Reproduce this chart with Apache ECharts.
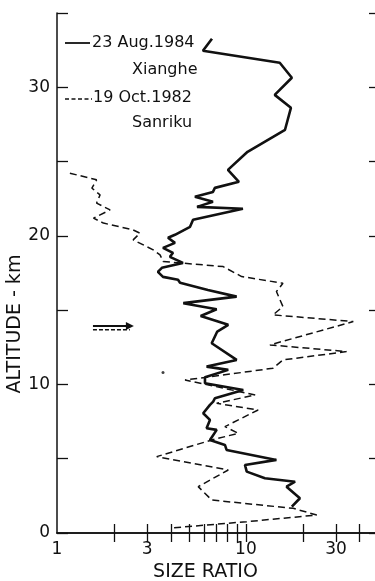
<!DOCTYPE html>
<html>
<head>
<meta charset="utf-8">
<script src="https://cdn.jsdelivr.net/npm/echarts@6/dist/echarts.min.js"></script>
<style>
  html, body { margin: 0; padding: 0; background: #fff; }
  #chart { width: 375px; height: 581px; }
</style>
</head>
<body>
<div id="chart"></div>
<script>
// 23 Aug.1984 Xianghe (solid)
var xiangheRatio = [6.61, 5.92, 15.1, 17.5, 14.2, 17.3, 16.1, 10.2, 8.03, 9.18, 6.85, 6.69, 5.37, 6.69, 5.51, 9.64,
  5.25, 5.06, 4.21, 3.87, 4.21, 3.64, 4.11, 3.96, 4.64, 3.59, 3.42, 3.64, 4.37, 4.48, 6.29, 8.93, 4.66, 7.0, 5.76,
  8.06, 7.05, 6.59, 8.93, 6.19, 8.06, 6.07, 6.07, 9.68, 6.85, 6.71, 6.45, 5.94, 6.45, 6.19, 7.0, 6.45, 7.74, 7.90,
  14.5, 9.88, 10.1, 12.6, 18.2, 16.4, 19.3, 17.5];
var xiangheAlt = [33.27, 32.46, 31.65, 30.64, 29.49, 28.62, 27.14, 25.66, 24.44, 23.64, 23.23, 22.96, 22.63, 22.29, 21.95, 21.82,
  21.08, 20.61, 20.07, 19.87, 19.53, 19.19, 18.86, 18.59, 18.18, 17.85, 17.58, 17.24, 17.04, 16.84, 16.36, 15.91, 15.47, 15.06, 14.61,
  14.01, 13.56, 12.77, 11.65, 11.20, 10.98, 10.48, 10.08, 9.63, 9.07, 8.84, 8.62, 8.06, 7.61, 7.05, 6.94, 6.26, 5.93, 5.59,
  4.92, 4.58, 4.13, 3.68, 3.45, 3.12, 2.34, 1.77];

// 19 Oct.1982 Sanriku (dashed)
var sanrikuRatio = [1.17, 1.62, 1.53, 1.69, 1.62, 1.91, 1.56, 1.76, 2.53, 2.75, 2.53, 3.23, 3.51, 3.65, 4.66, 7.58,
  9.49, 15.7, 14.5, 15.7, 13.9, 37.0, 13.4, 34.1, 15.7, 13.9, 6.19, 4.76, 11.2, 7.0, 11.6, 7.74, 9.10, 6.59, 3.37,
  8.06, 5.59, 6.59, 17.8, 23.7, 10.1, 4.06];
var sanrikuAlt = [24.22, 23.77, 23.21, 22.76, 22.20, 21.75, 21.19, 20.86, 20.40, 20.18, 19.73, 19.06, 18.72, 18.27, 18.16, 17.93,
  17.26, 16.81, 16.25, 15.24, 14.68, 14.23, 12.66, 12.21, 11.65, 11.09, 10.48, 10.30, 9.29, 8.73, 8.28, 7.16, 6.71, 6.26, 5.14,
  4.24, 3.12, 2.22, 1.66, 1.21, 0.76, 0.34];

// arrow marker near 14 km
var arrowRatio = [1.55, 2.43];
var arrowSolidAlt = 13.94;
var arrowDashAlt = 13.68;
var speck = [[3.64, 10.8]];

var xLabels = [1, 3, 10, 30];
var xTicks = [2, 3, 4, 5, 6, 7, 8, 9, 10, 20, 30, 40];

function pairs(xs, ys) {
  return xs.map(function (x, i) { return [x, ys[i]]; });
}

var ink = '#111';
var font = 'DejaVu Sans';
var chart = echarts.init(document.getElementById('chart'));

chart.setOption({
  animation: false,
  backgroundColor: '#fff',
  grid: { left: 57, top: 13, width: 321, height: 520, containLabel: false, outerBoundsMode: 'none' },
  xAxis: [{
    type: 'log', min: 1, max: 50, position: 'bottom',
    axisLine: { lineStyle: { color: ink, width: 1.5 } },
    axisTick: { show: true, inside: true, length: 9, customValues: xTicks, lineStyle: { color: ink, width: 1.3 } },
    axisLabel: { customValues: xLabels, color: ink, fontSize: 17, fontFamily: font, margin: 8 },
    splitLine: { show: false },
    name: 'SIZE RATIO', nameLocation: 'middle', nameGap: 30,
    nameTextStyle: { color: ink, fontSize: 19, fontFamily: font, padding: [0, 24, 0, 0] }
  }, {
    type: 'log', min: 1, max: 50, position: 'top',
    axisLine: { lineStyle: { color: ink, width: 1.5 } },
    axisTick: { show: true, inside: true, length: 9, customValues: xTicks, lineStyle: { color: ink, width: 1.3 } },
    axisLabel: { show: false },
    splitLine: { show: false }
  }],
  yAxis: [{
    type: 'value', min: 0, max: 35, interval: 5, position: 'left',
    axisLine: { show: true, lineStyle: { color: ink, width: 1.5 } },
    axisTick: { show: true, inside: true, length: 11, lineStyle: { color: ink, width: 1.3 } },
    axisLabel: {
      color: ink, fontSize: 17, fontFamily: font, margin: 7,
      formatter: function (v) { return (v % 10 === 0) ? String(v) : ''; }
    },
    splitLine: { show: false }
  }, {
    type: 'value', min: 0, max: 35, interval: 5, position: 'right',
    axisLine: { show: false },
    axisTick: { show: true, inside: true, length: 9, lineStyle: { color: ink, width: 1.3 } },
    axisLabel: { show: false },
    splitLine: { show: false }
  }],
  graphic: [
    { type: 'text', x: 15, y: 324, rotation: Math.PI / 2,
      style: { text: 'ALTITUDE - km', fill: ink, font: '19px "DejaVu Sans"', align: 'center', verticalAlign: 'middle' } },
    { type: 'line', shape: { x1: 65, y1: 43, x2: 90, y2: 43 }, style: { stroke: ink, lineWidth: 1.8 } },
    { type: 'text', x: 92, y: 43, style: { text: '23 Aug.1984', fill: ink, font: '16px "DejaVu Sans"', verticalAlign: 'middle' } },
    { type: 'text', x: 132, y: 70, style: { text: 'Xianghe', fill: ink, font: '16px "DejaVu Sans"', verticalAlign: 'middle' } },
    { type: 'line', shape: { x1: 65, y1: 99, x2: 92, y2: 99 }, style: { stroke: ink, lineWidth: 1.3, lineDash: [4, 2.5] } },
    { type: 'text', x: 93, y: 98, style: { text: '19 Oct.1982', fill: ink, font: '16px "DejaVu Sans"', verticalAlign: 'middle' } },
    { type: 'text', x: 132, y: 123, style: { text: 'Sanriku', fill: ink, font: '16px "DejaVu Sans"', verticalAlign: 'middle' } }
  ],
  series: [{
    name: '23 Aug.1984 Xianghe', type: 'line', xAxisIndex: 0, yAxisIndex: 0,
    data: pairs(xiangheRatio, xiangheAlt), showSymbol: false, smooth: false,
    lineStyle: { color: ink, width: 2.6 }
  }, {
    name: '19 Oct.1982 Sanriku', type: 'line', xAxisIndex: 0, yAxisIndex: 0,
    data: pairs(sanrikuRatio, sanrikuAlt), showSymbol: false, smooth: false,
    lineStyle: { color: ink, width: 1.5, type: [7, 4] }
  }, {
    type: 'line', xAxisIndex: 0, yAxisIndex: 0,
    data: [[arrowRatio[0], arrowSolidAlt], { value: [arrowRatio[1], arrowSolidAlt], symbol: 'triangle', symbolSize: 8, symbolRotate: -90 }],
    symbol: 'none', lineStyle: { color: ink, width: 2 }, itemStyle: { color: ink }
  }, {
    type: 'line', xAxisIndex: 0, yAxisIndex: 0,
    data: [[arrowRatio[0], arrowDashAlt], [arrowRatio[1], arrowDashAlt]],
    symbol: 'none', lineStyle: { color: ink, width: 1.5, type: [4, 2] }
  }, {
    type: 'scatter', xAxisIndex: 0, yAxisIndex: 0,
    data: speck, symbolSize: 3, itemStyle: { color: ink }
  }]
});
</script>
</body>
</html>
